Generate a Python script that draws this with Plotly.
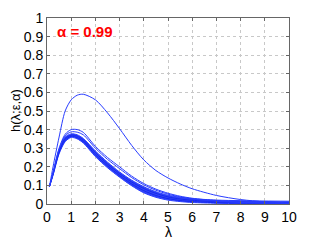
import plotly.graph_objects as go

lam = [0.1, 0.25, 0.5, 0.75, 1.0, 1.25, 1.5, 2.0, 2.5, 3.0, 3.5, 4.0, 4.5, 5.0, 5.5, 6.0, 7.0, 8.0, 9.0, 10.0]

h_top = [0.093, 0.20, 0.36, 0.50, 0.56, 0.585, 0.59, 0.56, 0.49, 0.405, 0.315, 0.237, 0.18, 0.14, 0.108, 0.082, 0.046, 0.024, 0.012, 0.006]
h_second = [0.093, 0.17, 0.30, 0.375, 0.40, 0.40, 0.385, 0.31, 0.25, 0.20, 0.15, 0.11, 0.08, 0.058, 0.042, 0.031, 0.017, 0.01, 0.006, 0.004]
h_third = [0.093, 0.168, 0.295, 0.367, 0.388, 0.386, 0.372, 0.30, 0.24, 0.19, 0.142, 0.103, 0.074, 0.053, 0.038, 0.027, 0.015, 0.009, 0.005, 0.003]
band_top = [0.093, 0.165, 0.29, 0.36, 0.377, 0.372, 0.352, 0.285, 0.225, 0.172, 0.128, 0.093, 0.066, 0.047, 0.036, 0.029, 0.021, 0.018, 0.016, 0.015]
band_mid1 = [0.093, 0.162, 0.283, 0.352, 0.370, 0.365, 0.345, 0.276, 0.215, 0.163, 0.118, 0.083, 0.057, 0.038, 0.027, 0.02, 0.013, 0.010, 0.009, 0.008]
band_mid2 = [0.093, 0.158, 0.276, 0.343, 0.364, 0.357, 0.336, 0.265, 0.205, 0.153, 0.108, 0.072, 0.046, 0.029, 0.019, 0.013, 0.007, 0.005, 0.004, 0.003]
band_bottom = [0.093, 0.155, 0.27, 0.335, 0.358, 0.35, 0.328, 0.255, 0.195, 0.144, 0.098, 0.06, 0.036, 0.021, 0.013, 0.008, 0.004, 0.002, 0.001, 0.0005]

x_ticks = list(range(0, 11))
y_ticks = [0, 0.1, 0.2, 0.3, 0.4, 0.5, 0.6, 0.7, 0.8, 0.9, 1]

blue = "rgb(40,60,255)"
font_family = "Liberation Sans, Arial"
fig = go.Figure()

line = dict(color=blue, width=1, shape="spline", smoothing=0.8)
fig.add_trace(go.Scatter(x=lam, y=band_bottom, mode="lines", line=line, hoverinfo="skip"))
fig.add_trace(go.Scatter(x=lam, y=band_top, mode="lines", line=line, fill="tonexty",
                         fillcolor="rgba(30,50,245,0.9)", hoverinfo="skip"))
for ys in [band_mid1, band_mid2]:
    fig.add_trace(go.Scatter(x=lam, y=ys, mode="lines",
                             line=dict(color="rgb(20,40,240)", width=1, shape="spline", smoothing=0.8),
                             hoverinfo="skip"))
for ys in [h_third, h_second, h_top]:
    fig.add_trace(go.Scatter(x=lam, y=ys, mode="lines", line=line, hoverinfo="skip"))

axis_common = dict(
    showline=True, linecolor="#666", linewidth=1, mirror="ticks",
    ticks="inside", ticklen=3, tickcolor="#666",
    showgrid=True, gridcolor="#c8c8c8", griddash="dot", gridwidth=1,
    zeroline=False, automargin=False,
    tickfont=dict(family=font_family, size=14, color="black"),
)

# page body has an 8px default margin; figure sized to fill the rest of the 319x240 window
fig.update_layout(
    width=311, height=232,
    margin=dict(l=39, r=30, t=10, b=36),
    paper_bgcolor="white", plot_bgcolor="white",
    showlegend=False,
    xaxis=dict(range=[0, 10], tickvals=x_ticks, **axis_common),
    yaxis=dict(range=[0, 1], tickvals=y_ticks, **axis_common),
    annotations=[
        dict(x=0.035, y=0.93, xref="paper", yref="paper", xanchor="left", yanchor="middle",
             text="<b>α = 0.99</b>", showarrow=False,
             font=dict(family=font_family, size=15, color="red")),
        dict(x=0.5, y=0, xref="paper", yref="paper", xanchor="center", yanchor="middle",
             yshift=-28, text="λ", showarrow=False,
             font=dict(family=font_family, size=14, color="black")),
        dict(x=0, y=0.5, xref="paper", yref="paper", xanchor="center", yanchor="middle",
             xshift=-32, text="h(λ;ε,α)", textangle=-90, showarrow=False,
             font=dict(family=font_family, size=13, color="black")),
    ],
)

fig.write_html("out.html")
